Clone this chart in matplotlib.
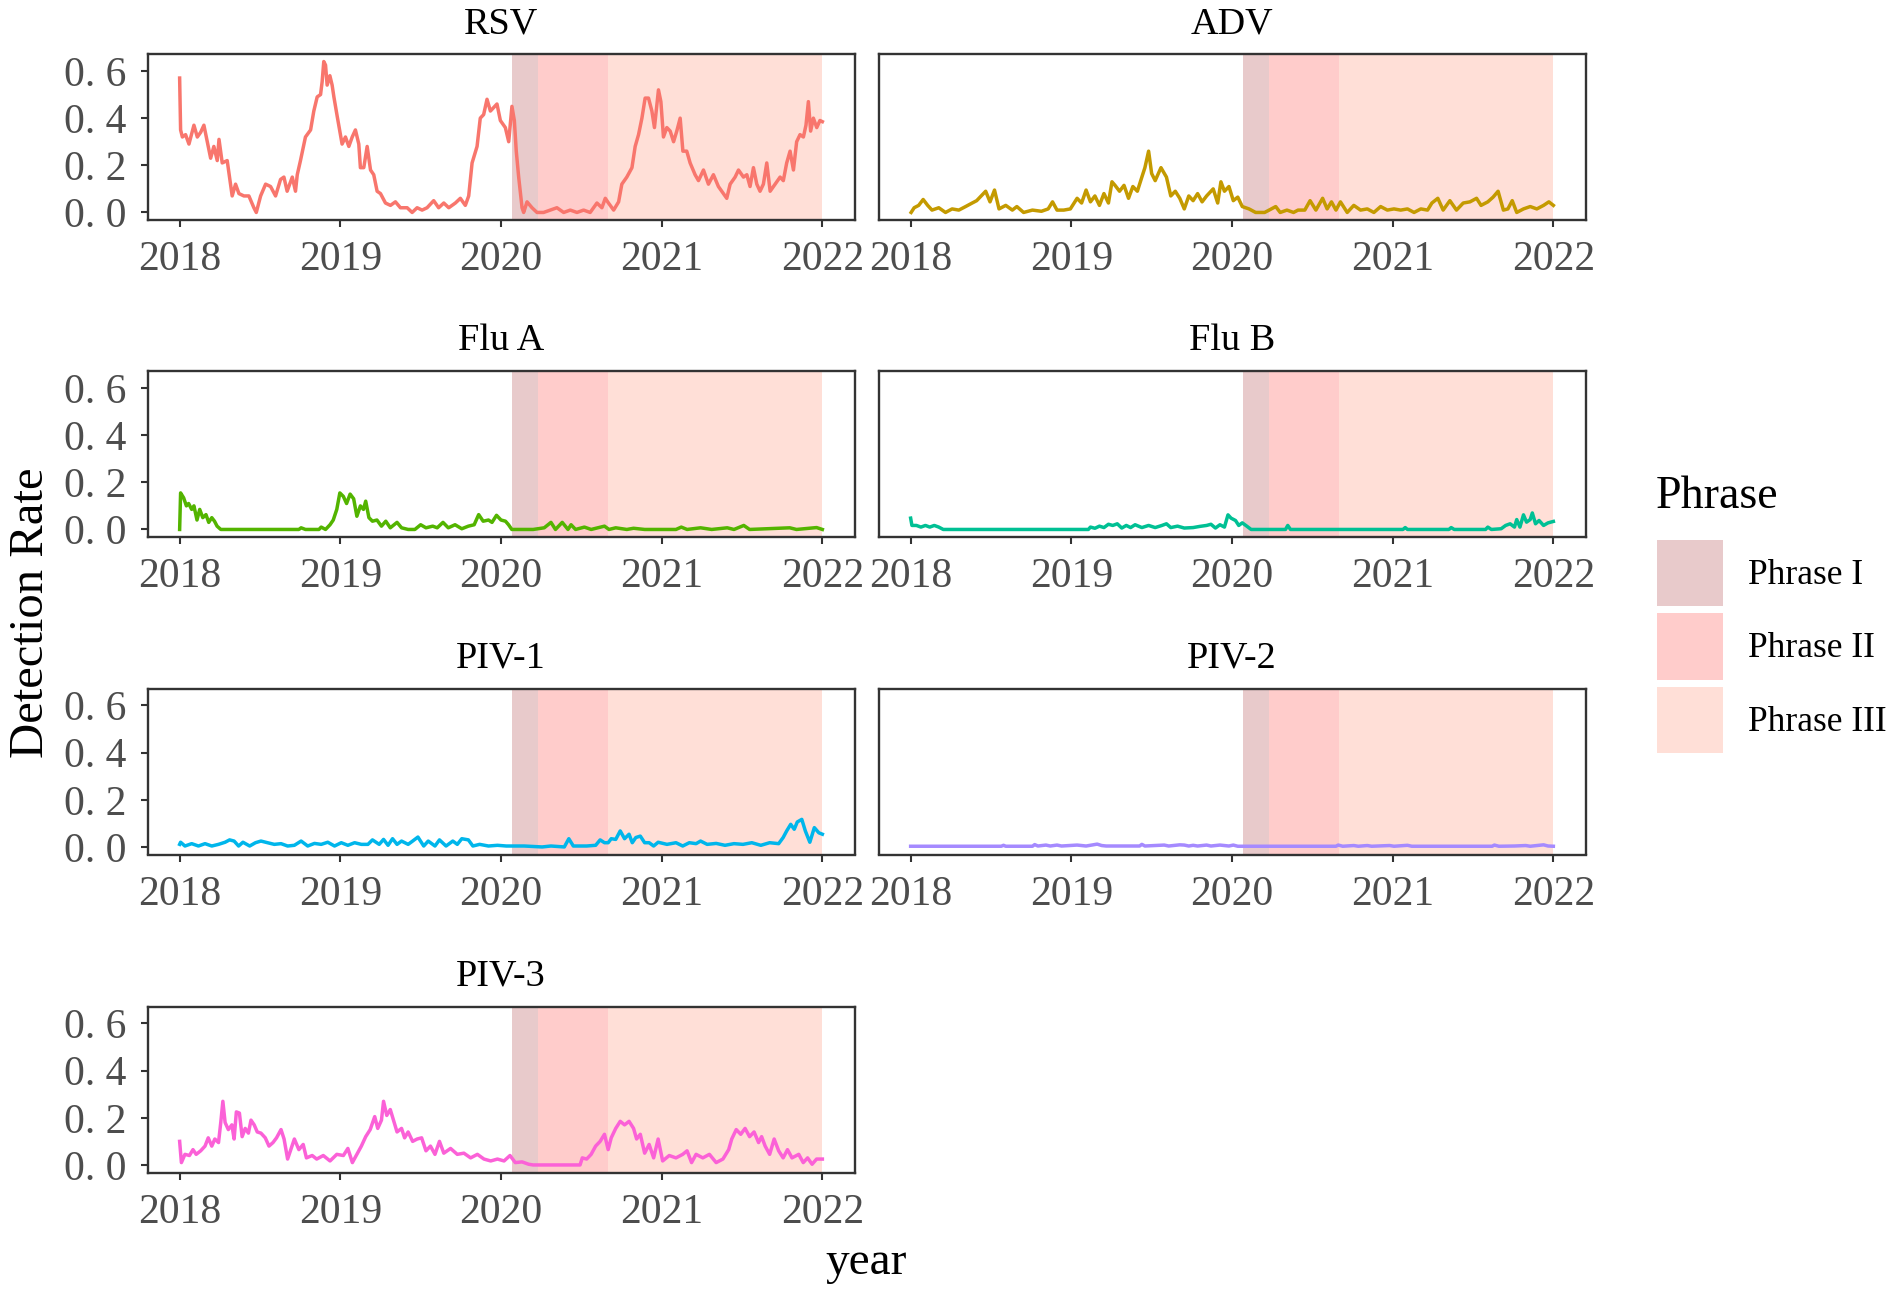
import matplotlib
matplotlib.use("Agg")
import matplotlib.pyplot as plt
from matplotlib.patches import Patch

# ---------------- data ----------------
panel_titles = ["RSV", "ADV", "Flu A", "Flu B", "PIV-1", "PIV-2", "PIV-3"]
line_colors = ["#F8766D", "#C49A00", "#53B400", "#00C094", "#00B6EB", "#A58AFF", "#FB61D7"]

legend_title = "Phrase"
phase_labels = ["Phrase I", "Phrase II", "Phrase III"]
phase_colors = ["#E8CACB", "#FFCCCB", "#FFDFD7"]
phase_start = [2020.066, 2020.230, 2020.669]
phase_end = [2020.230, 2020.669, 2022.000]

year_ticks = [2018, 2019, 2020, 2021, 2022]
rate_ticks = [0.0, 0.2, 0.4, 0.6]
rate_tick_labels = ["0. 0", "0. 2", "0. 4", "0. 6"]

rsv = [(2018.000, 0.57), (2018.006, 0.35), (2018.017, 0.32), (2018.037, 0.33), (2018.058, 0.29),
       (2018.089, 0.37), (2018.110, 0.32), (2018.131, 0.34), (2018.151, 0.37), (2018.172, 0.30),
       (2018.193, 0.23), (2018.213, 0.28), (2018.234, 0.22), (2018.245, 0.31), (2018.265, 0.21),
       (2018.296, 0.22), (2018.317, 0.12), (2018.327, 0.07), (2018.348, 0.12), (2018.369, 0.08),
       (2018.400, 0.07), (2018.431, 0.07), (2018.462, 0.02), (2018.477, 0.00), (2018.504, 0.07),
       (2018.535, 0.12), (2018.566, 0.11), (2018.597, 0.07), (2018.628, 0.14), (2018.649, 0.15),
       (2018.669, 0.09), (2018.701, 0.15), (2018.721, 0.09), (2018.732, 0.16), (2018.752, 0.22),
       (2018.783, 0.32), (2018.815, 0.35), (2018.835, 0.43), (2018.856, 0.49), (2018.877, 0.50),
       (2018.887, 0.555), (2018.897, 0.64), (2018.908, 0.625), (2018.918, 0.54), (2018.935, 0.58),
       (2018.949, 0.54), (2018.960, 0.49), (2018.980, 0.41), (2018.997, 0.345), (2019.011, 0.29),
       (2019.032, 0.32), (2019.053, 0.28), (2019.074, 0.32), (2019.094, 0.35), (2019.115, 0.29),
       (2019.125, 0.19), (2019.146, 0.19), (2019.167, 0.28), (2019.188, 0.18), (2019.208, 0.16),
       (2019.229, 0.09), (2019.250, 0.08), (2019.281, 0.04), (2019.312, 0.03), (2019.343, 0.045),
       (2019.374, 0.02), (2019.416, 0.02), (2019.447, 0.00), (2019.478, 0.02), (2019.509, 0.01),
       (2019.540, 0.02), (2019.581, 0.05), (2019.612, 0.02), (2019.644, 0.04), (2019.675, 0.02),
       (2019.716, 0.04), (2019.747, 0.06), (2019.778, 0.03), (2019.799, 0.07), (2019.820, 0.21),
       (2019.851, 0.28), (2019.871, 0.40), (2019.892, 0.415), (2019.913, 0.48), (2019.934, 0.43),
       (2019.975, 0.46), (2019.996, 0.39), (2020.027, 0.36), (2020.048, 0.30), (2020.068, 0.45),
       (2020.083, 0.39), (2020.095, 0.26), (2020.110, 0.15), (2020.131, 0.02), (2020.141, 0.00),
       (2020.162, 0.045), (2020.193, 0.02), (2020.224, 0.00), (2020.265, 0.00), (2020.348, 0.02),
       (2020.390, 0.00), (2020.431, 0.01), (2020.473, 0.00), (2020.514, 0.01), (2020.555, 0.00),
       (2020.597, 0.04), (2020.628, 0.02), (2020.649, 0.06), (2020.669, 0.04), (2020.701, 0.01),
       (2020.732, 0.045), (2020.752, 0.12), (2020.783, 0.15), (2020.815, 0.19), (2020.835, 0.28),
       (2020.856, 0.33), (2020.877, 0.40), (2020.897, 0.485), (2020.918, 0.485), (2020.939, 0.43),
       (2020.955, 0.36), (2020.980, 0.52), (2020.995, 0.47), (2021.011, 0.32), (2021.032, 0.36),
       (2021.053, 0.345), (2021.074, 0.30), (2021.094, 0.345), (2021.115, 0.40), (2021.132, 0.26),
       (2021.156, 0.26), (2021.177, 0.21), (2021.208, 0.16), (2021.229, 0.135), (2021.260, 0.18),
       (2021.291, 0.12), (2021.322, 0.16), (2021.353, 0.11), (2021.384, 0.08), (2021.405, 0.06),
       (2021.426, 0.12), (2021.457, 0.15), (2021.478, 0.18), (2021.509, 0.15), (2021.530, 0.16),
       (2021.550, 0.11), (2021.571, 0.19), (2021.592, 0.12), (2021.612, 0.09), (2021.633, 0.12),
       (2021.654, 0.21), (2021.675, 0.09), (2021.706, 0.12), (2021.737, 0.15), (2021.757, 0.135),
       (2021.778, 0.21), (2021.799, 0.26), (2021.820, 0.18), (2021.840, 0.30), (2021.861, 0.33),
       (2021.882, 0.32), (2021.898, 0.37), (2021.913, 0.47), (2021.927, 0.345), (2021.944, 0.40),
       (2021.965, 0.36), (2021.985, 0.39), (2022.000, 0.385)]

adv = [(2018.003, 0.0), (2018.022, 0.02), (2018.050, 0.03), (2018.078, 0.055), (2018.106, 0.03),
       (2018.133, 0.01), (2018.175, 0.02), (2018.217, 0.0), (2018.258, 0.015), (2018.300, 0.01),
       (2018.342, 0.025), (2018.383, 0.04), (2018.411, 0.05), (2018.439, 0.07), (2018.467, 0.09),
       (2018.494, 0.045), (2018.522, 0.095), (2018.550, 0.015), (2018.592, 0.03), (2018.633, 0.01),
       (2018.661, 0.025), (2018.703, 0.0), (2018.758, 0.01), (2018.814, 0.005), (2018.856, 0.015),
       (2018.883, 0.045), (2018.911, 0.01), (2018.953, 0.01), (2018.994, 0.015), (2019.036, 0.06),
       (2019.064, 0.04), (2019.092, 0.095), (2019.119, 0.045), (2019.147, 0.07), (2019.175, 0.03),
       (2019.203, 0.08), (2019.231, 0.04), (2019.253, 0.13), (2019.272, 0.115), (2019.300, 0.09),
       (2019.328, 0.115), (2019.356, 0.06), (2019.383, 0.11), (2019.411, 0.09), (2019.439, 0.15),
       (2019.458, 0.19), (2019.481, 0.26), (2019.500, 0.165), (2019.522, 0.135), (2019.558, 0.19),
       (2019.592, 0.15), (2019.619, 0.07), (2019.647, 0.09), (2019.675, 0.06), (2019.703, 0.015),
       (2019.731, 0.07), (2019.758, 0.05), (2019.786, 0.08), (2019.814, 0.045), (2019.842, 0.07),
       (2019.883, 0.10), (2019.911, 0.04), (2019.931, 0.13), (2019.953, 0.09), (2019.981, 0.11),
       (2020.008, 0.05), (2020.036, 0.065), (2020.064, 0.025), (2020.106, 0.015), (2020.147, 0.0),
       (2020.203, 0.0), (2020.231, 0.01), (2020.272, 0.025), (2020.300, 0.0), (2020.342, 0.01),
       (2020.383, 0.0), (2020.411, 0.01), (2020.453, 0.01), (2020.486, 0.05), (2020.522, 0.01),
       (2020.564, 0.06), (2020.592, 0.015), (2020.619, 0.045), (2020.647, 0.01), (2020.675, 0.045),
       (2020.717, 0.0), (2020.758, 0.03), (2020.800, 0.01), (2020.842, 0.015), (2020.883, 0.0),
       (2020.925, 0.025), (2020.967, 0.01), (2021.008, 0.015), (2021.050, 0.01), (2021.092, 0.015),
       (2021.133, 0.0), (2021.175, 0.015), (2021.217, 0.01), (2021.244, 0.04), (2021.281, 0.06),
       (2021.314, 0.01), (2021.356, 0.05), (2021.397, 0.01), (2021.439, 0.04), (2021.481, 0.045),
       (2021.522, 0.06), (2021.550, 0.03), (2021.592, 0.045), (2021.625, 0.065), (2021.656, 0.09),
       (2021.689, 0.01), (2021.717, 0.015), (2021.744, 0.05), (2021.772, 0.0), (2021.814, 0.015),
       (2021.856, 0.025), (2021.897, 0.015), (2021.939, 0.03), (2021.972, 0.045), (2022.000, 0.03)]

flu_a = [(2018.000, 0.0), (2018.006, 0.155), (2018.025, 0.134), (2018.042, 0.10), (2018.056, 0.11),
         (2018.075, 0.085), (2018.089, 0.10), (2018.108, 0.04), (2018.125, 0.085), (2018.144, 0.05),
         (2018.164, 0.063), (2018.181, 0.03), (2018.200, 0.05), (2018.217, 0.035), (2018.233, 0.014),
         (2018.256, 0.0), (2018.742, 0.0), (2018.756, 0.007), (2018.783, 0.0), (2018.867, 0.0),
         (2018.881, 0.01), (2018.908, 0.0), (2018.936, 0.02), (2018.956, 0.04), (2018.978, 0.085),
         (2018.997, 0.155), (2019.019, 0.14), (2019.039, 0.11), (2019.061, 0.15), (2019.083, 0.13),
         (2019.103, 0.056), (2019.125, 0.10), (2019.144, 0.085), (2019.158, 0.12), (2019.178, 0.05),
         (2019.200, 0.035), (2019.228, 0.04), (2019.256, 0.014), (2019.283, 0.035), (2019.311, 0.007),
         (2019.353, 0.03), (2019.381, 0.007), (2019.422, 0.0), (2019.464, 0.0), (2019.500, 0.02),
         (2019.533, 0.007), (2019.575, 0.014), (2019.603, 0.007), (2019.639, 0.03), (2019.672, 0.007),
         (2019.714, 0.02), (2019.756, 0.003), (2019.797, 0.014), (2019.833, 0.02), (2019.861, 0.063),
         (2019.889, 0.035), (2019.922, 0.04), (2019.944, 0.03), (2019.972, 0.06), (2020.000, 0.04),
         (2020.028, 0.035), (2020.047, 0.02), (2020.067, 0.0), (2020.200, 0.0), (2020.269, 0.007),
         (2020.311, 0.03), (2020.339, 0.0), (2020.381, 0.03), (2020.417, 0.0), (2020.436, 0.02),
         (2020.464, 0.0), (2020.519, 0.01), (2020.561, 0.0), (2020.644, 0.014), (2020.672, 0.0),
         (2020.714, 0.007), (2020.783, 0.0), (2020.825, 0.005), (2020.894, 0.0), (2021.089, 0.0),
         (2021.122, 0.01), (2021.158, 0.0), (2021.242, 0.007), (2021.311, 0.0), (2021.408, 0.007),
         (2021.450, 0.0), (2021.511, 0.017), (2021.547, 0.0), (2021.797, 0.007), (2021.839, 0.0),
         (2021.964, 0.008), (2022.000, 0.0)]

flu_b = [(2018.000, 0.048), (2018.008, 0.017), (2018.036, 0.017), (2018.064, 0.01), (2018.092, 0.017),
         (2018.119, 0.01), (2018.147, 0.017), (2018.175, 0.01), (2018.203, 0.0), (2019.106, 0.0),
         (2019.119, 0.01), (2019.147, 0.005), (2019.175, 0.014), (2019.203, 0.008), (2019.231, 0.022),
         (2019.258, 0.017), (2019.286, 0.024), (2019.314, 0.006), (2019.342, 0.017), (2019.369, 0.008),
         (2019.397, 0.02), (2019.439, 0.008), (2019.481, 0.017), (2019.522, 0.008), (2019.564, 0.017),
         (2019.592, 0.024), (2019.619, 0.008), (2019.661, 0.014), (2019.703, 0.006), (2019.758, 0.008),
         (2019.800, 0.013), (2019.842, 0.017), (2019.869, 0.022), (2019.897, 0.006), (2019.925, 0.02),
         (2019.953, 0.01), (2019.975, 0.062), (2019.994, 0.048), (2020.022, 0.038), (2020.042, 0.017),
         (2020.064, 0.028), (2020.092, 0.014), (2020.119, 0.0), (2020.333, 0.0), (2020.347, 0.017),
         (2020.364, 0.0), (2021.064, 0.0), (2021.078, 0.008), (2021.092, 0.0), (2021.350, 0.0),
         (2021.364, 0.008), (2021.383, 0.0), (2021.578, 0.0), (2021.592, 0.01), (2021.614, 0.0),
         (2021.675, 0.003), (2021.703, 0.017), (2021.731, 0.024), (2021.758, 0.01), (2021.772, 0.042),
         (2021.792, 0.01), (2021.814, 0.062), (2021.833, 0.031), (2021.856, 0.042), (2021.869, 0.07),
         (2021.889, 0.024), (2021.911, 0.038), (2021.939, 0.017), (2021.967, 0.028), (2022.000, 0.034)]

piv_1 = [(2018.000, 0.011), (2018.006, 0.02), (2018.033, 0.004), (2018.075, 0.014), (2018.117, 0.004),
         (2018.158, 0.014), (2018.200, 0.004), (2018.242, 0.011), (2018.283, 0.02), (2018.311, 0.03),
         (2018.339, 0.025), (2018.367, 0.004), (2018.394, 0.02), (2018.436, 0.004), (2018.472, 0.018),
         (2018.506, 0.025), (2018.547, 0.018), (2018.589, 0.011), (2018.631, 0.014), (2018.672, 0.004),
         (2018.714, 0.007), (2018.756, 0.025), (2018.797, 0.004), (2018.839, 0.015), (2018.881, 0.011),
         (2018.922, 0.02), (2018.964, 0.004), (2019.006, 0.018), (2019.047, 0.007), (2019.089, 0.018),
         (2019.131, 0.011), (2019.172, 0.011), (2019.200, 0.03), (2019.242, 0.011), (2019.269, 0.032),
         (2019.297, 0.007), (2019.325, 0.035), (2019.353, 0.011), (2019.381, 0.025), (2019.422, 0.011),
         (2019.450, 0.025), (2019.483, 0.042), (2019.519, 0.004), (2019.547, 0.025), (2019.589, 0.004),
         (2019.617, 0.03), (2019.658, 0.004), (2019.700, 0.025), (2019.728, 0.011), (2019.756, 0.035),
         (2019.797, 0.03), (2019.825, 0.004), (2019.867, 0.011), (2019.922, 0.004), (2019.978, 0.007),
         (2020.033, 0.004), (2020.089, 0.004), (2020.144, 0.004), (2020.256, 0.0), (2020.311, 0.004),
         (2020.394, 0.0), (2020.422, 0.035), (2020.450, 0.004), (2020.533, 0.004), (2020.589, 0.007),
         (2020.617, 0.03), (2020.644, 0.018), (2020.667, 0.018), (2020.686, 0.035), (2020.714, 0.032),
         (2020.742, 0.068), (2020.769, 0.035), (2020.797, 0.054), (2020.817, 0.018), (2020.839, 0.04),
         (2020.867, 0.046), (2020.894, 0.018), (2020.922, 0.018), (2020.950, 0.004), (2020.978, 0.02),
         (2021.033, 0.011), (2021.089, 0.018), (2021.131, 0.004), (2021.172, 0.018), (2021.214, 0.014),
         (2021.242, 0.025), (2021.283, 0.011), (2021.339, 0.015), (2021.394, 0.007), (2021.450, 0.014),
         (2021.506, 0.011), (2021.561, 0.018), (2021.617, 0.007), (2021.672, 0.018), (2021.728, 0.014),
         (2021.756, 0.04), (2021.778, 0.068), (2021.803, 0.096), (2021.825, 0.075), (2021.844, 0.106),
         (2021.872, 0.117), (2021.894, 0.068), (2021.922, 0.02), (2021.950, 0.082), (2021.978, 0.06),
         (2022.000, 0.054)]

piv_2 = [(2018.000, 0.003), (2018.564, 0.003), (2018.578, 0.007), (2018.592, 0.003), (2018.758, 0.003),
         (2018.772, 0.01), (2018.792, 0.004), (2018.842, 0.008), (2018.869, 0.004), (2018.911, 0.008),
         (2018.939, 0.004), (2019.036, 0.008), (2019.064, 0.006), (2019.092, 0.004), (2019.161, 0.012),
         (2019.189, 0.006), (2019.217, 0.004), (2019.425, 0.004), (2019.439, 0.011), (2019.458, 0.004),
         (2019.578, 0.008), (2019.606, 0.004), (2019.675, 0.009), (2019.703, 0.008), (2019.731, 0.004),
         (2019.758, 0.007), (2019.786, 0.004), (2019.842, 0.008), (2019.869, 0.004), (2019.925, 0.008),
         (2019.953, 0.006), (2019.981, 0.004), (2020.008, 0.008), (2020.036, 0.003), (2020.647, 0.003),
         (2020.661, 0.008), (2020.689, 0.003), (2020.758, 0.006), (2020.786, 0.003), (2020.842, 0.006),
         (2020.869, 0.003), (2020.981, 0.006), (2021.008, 0.003), (2021.092, 0.007), (2021.119, 0.003),
         (2021.619, 0.003), (2021.633, 0.008), (2021.661, 0.003), (2021.758, 0.004), (2021.828, 0.006),
         (2021.856, 0.003), (2021.939, 0.009), (2021.967, 0.004), (2022.000, 0.003)]

piv_3 = [(2018.000, 0.10), (2018.011, 0.01), (2018.033, 0.045), (2018.061, 0.04), (2018.083, 0.065),
         (2018.103, 0.045), (2018.131, 0.06), (2018.158, 0.08), (2018.178, 0.115), (2018.200, 0.08),
         (2018.219, 0.11), (2018.242, 0.095), (2018.256, 0.18), (2018.269, 0.27), (2018.283, 0.18),
         (2018.303, 0.15), (2018.325, 0.17), (2018.339, 0.11), (2018.353, 0.225), (2018.372, 0.22),
         (2018.389, 0.12), (2018.408, 0.155), (2018.428, 0.135), (2018.444, 0.19), (2018.464, 0.17),
         (2018.483, 0.14), (2018.506, 0.135), (2018.533, 0.115), (2018.556, 0.08), (2018.581, 0.095),
         (2018.603, 0.115), (2018.631, 0.15), (2018.650, 0.11), (2018.672, 0.025), (2018.694, 0.07),
         (2018.714, 0.11), (2018.742, 0.065), (2018.769, 0.087), (2018.789, 0.03), (2018.825, 0.04),
         (2018.853, 0.025), (2018.894, 0.04), (2018.936, 0.017), (2018.978, 0.045), (2019.019, 0.04),
         (2019.047, 0.07), (2019.075, 0.01), (2019.103, 0.045), (2019.131, 0.08), (2019.158, 0.12),
         (2019.186, 0.15), (2019.214, 0.205), (2019.233, 0.155), (2019.256, 0.19), (2019.269, 0.27),
         (2019.289, 0.21), (2019.311, 0.235), (2019.333, 0.185), (2019.353, 0.14), (2019.381, 0.155),
         (2019.400, 0.115), (2019.422, 0.14), (2019.450, 0.10), (2019.478, 0.11), (2019.506, 0.115),
         (2019.533, 0.06), (2019.561, 0.08), (2019.589, 0.045), (2019.617, 0.10), (2019.644, 0.05),
         (2019.686, 0.07), (2019.728, 0.045), (2019.769, 0.05), (2019.811, 0.03), (2019.853, 0.045),
         (2019.894, 0.025), (2019.936, 0.017), (2019.978, 0.025), (2020.019, 0.017), (2020.056, 0.04),
         (2020.089, 0.01), (2020.131, 0.013), (2020.172, 0.003), (2020.200, 0.0), (2020.492, 0.0),
         (2020.506, 0.03), (2020.533, 0.025), (2020.561, 0.045), (2020.589, 0.08), (2020.617, 0.10),
         (2020.644, 0.13), (2020.667, 0.065), (2020.686, 0.115), (2020.714, 0.155), (2020.742, 0.185),
         (2020.769, 0.17), (2020.797, 0.185), (2020.825, 0.155), (2020.844, 0.11), (2020.867, 0.13),
         (2020.894, 0.05), (2020.922, 0.087), (2020.950, 0.03), (2020.978, 0.11), (2021.006, 0.017),
         (2021.047, 0.04), (2021.089, 0.03), (2021.131, 0.045), (2021.158, 0.06), (2021.186, 0.01),
         (2021.214, 0.045), (2021.256, 0.03), (2021.297, 0.045), (2021.339, 0.01), (2021.381, 0.025),
         (2021.417, 0.065), (2021.436, 0.11), (2021.464, 0.15), (2021.492, 0.13), (2021.519, 0.155),
         (2021.547, 0.12), (2021.575, 0.14), (2021.603, 0.095), (2021.622, 0.12), (2021.644, 0.08),
         (2021.672, 0.045), (2021.700, 0.11), (2021.728, 0.06), (2021.756, 0.03), (2021.783, 0.065),
         (2021.811, 0.03), (2021.853, 0.045), (2021.881, 0.01), (2021.908, 0.03), (2021.936, 0.003),
         (2021.964, 0.025), (2022.000, 0.025)]

series = [rsv, adv, flu_a, flu_b, piv_1, piv_2, piv_3]

# ---------------- figure ----------------
SERIF = ["Liberation Serif", "DejaVu Serif"]
W, H = 1895, 1293
fig = plt.figure(figsize=(W / 100, H / 100), dpi=100)

col_left = [147.5, 878.5]
panel_w = 707.0
row_bottom = [220.0, 537.0, 854.5, 1172.5]
panel_h = 166.0

for i, (title, data, color) in enumerate(zip(panel_titles, series, line_colors)):
    r, c = divmod(i, 2)
    ax = fig.add_axes([col_left[c] / W, 1 - row_bottom[r] / H, panel_w / W, panel_h / H])
    for s, e, pc in zip(phase_start, phase_end, phase_colors):
        ax.axvspan(s, e, color=pc, lw=0, zorder=1)
    xs = [p[0] for p in data]
    ys = [p[1] for p in data]
    ax.plot(xs, ys, color=color, lw=2.5, zorder=3)
    ax.set_xlim(2017.8, 2022.2)
    ax.set_ylim(-0.032, 0.672)
    ax.set_xticks(year_ticks)
    ax.set_xticklabels([str(y) for y in year_ticks])
    if c == 0:
        ax.set_yticks(rate_ticks)
        ax.set_yticklabels(rate_tick_labels)
    else:
        ax.set_yticks([])
    for sp in ax.spines.values():
        sp.set_color("#333333")
        sp.set_linewidth(1.7)
        sp.set_zorder(5)
    ax.tick_params(axis="both", direction="out", length=5, width=1.5, color="#333333",
                   labelcolor="#4D4D4D", labelsize=30)
    ax.tick_params(axis="x", pad=10)
    ax.tick_params(axis="y", pad=10)
    for lab in ax.get_xticklabels() + ax.get_yticklabels():
        lab.set_fontfamily(SERIF)
    ax.set_title(title, fontsize=27.5, family=SERIF, color="black", pad=15)

fig.text(31 / W, 1 - 613 / H, "Detection Rate", rotation=90, ha="center", va="center",
         fontsize=35, family=SERIF, color="black")
fig.text(866 / W, 1 - 1263 / H, "year", ha="center", va="center",
         fontsize=34, family=SERIF, color="black")

# legend
fig.text(1656 / W, 1 - 497 / H, legend_title, ha="left", va="center",
         fontsize=33, family=SERIF, color="black")
handles = [Patch(facecolor=pc, edgecolor="none") for pc in phase_colors]
leg = fig.legend(handles, phase_labels, loc="upper left",
                 bbox_to_anchor=(1657 / W, 1 - 540 / H), frameon=False,
                 prop={"family": SERIF, "size": 25.5},
                 handlelength=1.85, handleheight=2.5, labelspacing=0.2,
                 handletextpad=0.72, borderpad=0, borderaxespad=0)

fig.savefig("out.png", dpi=100, facecolor="white")
